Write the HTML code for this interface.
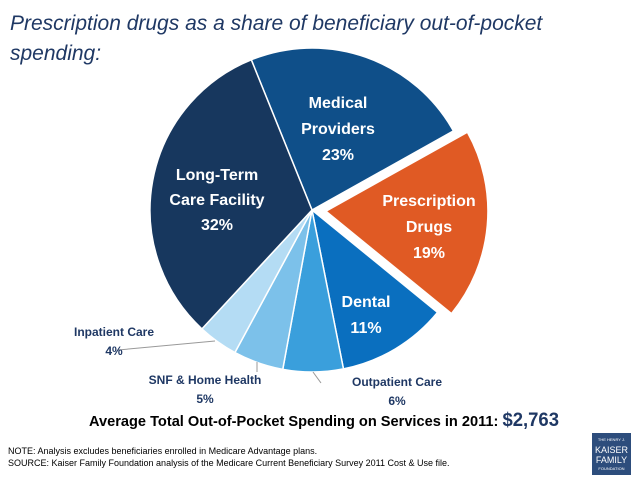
<!DOCTYPE html>
<html><head><meta charset="utf-8"><style>
body{margin:0;background:#fff;width:638px;height:479px;overflow:hidden;font-family:"Liberation Sans",sans-serif}
svg text{font-family:"Liberation Sans",sans-serif}
</style></head><body>
<svg width="638" height="479" id="c">
<text x="10" y="30" font-size="21" font-style="italic" fill="#1f3864">Prescription drugs as a share of beneficiary out-of-pocket</text>
<text x="10" y="60" font-size="21" font-style="italic" fill="#1f3864">spending:</text>
<g id="slices"></g>
<g id="labels" font-weight="bold" font-size="16" fill="#fff" text-anchor="middle">
<text x="338" y="108">Medical</text>
<text x="338" y="134">Providers</text>
<text x="338" y="160">23%</text>
<text x="217" y="180">Long-Term</text>
<text x="217" y="205">Care Facility</text>
<text x="217" y="230">32%</text>
<text x="429" y="206">Prescription</text>
<text x="429" y="232">Drugs</text>
<text x="429" y="258">19%</text>
<text x="366" y="307">Dental</text>
<text x="366" y="333">11%</text>
</g>
<g font-size="12" font-weight="bold" fill="#1f3864" text-anchor="middle">
<line x1="118" y1="350" x2="215" y2="341" stroke="#999"/>
<text x="114" y="336">Inpatient Care</text>
<text x="114" y="355">4%</text>
<line x1="257" y1="362" x2="257" y2="372" stroke="#999"/>
<text x="205" y="384">SNF &amp; Home Health</text>
<text x="205" y="403">5%</text>
<line x1="313" y1="372" x2="321" y2="383" stroke="#999"/>
<text x="397" y="386">Outpatient Care</text>
<text x="397" y="405">6%</text>
</g>
<text x="89" y="426" font-size="15" font-weight="bold" fill="#000" textLength="470" lengthAdjust="spacingAndGlyphs">Average Total Out-of-Pocket Spending on Services in 2011: <tspan font-size="19" fill="#1f3864">$2,763</tspan></text>
<text x="8" y="454" font-size="9" fill="#000">NOTE: Analysis excludes beneficiaries enrolled in Medicare Advantage plans.</text>
<text x="8" y="466" font-size="9" fill="#000">SOURCE: Kaiser Family Foundation analysis of the Medicare Current Beneficiary Survey 2011 Cost &amp; Use file.</text>
<g>
<rect x="592" y="433" width="39" height="42" fill="#2d4d7c"/>
<text x="611.5" y="441" font-size="4" fill="#fff" text-anchor="middle" font-family="Liberation Serif">THE HENRY J.</text>
<text x="611.5" y="453" font-size="9" fill="#fff" text-anchor="middle" font-family="Liberation Serif">KAISER</text>
<text x="611.5" y="463" font-size="9" fill="#fff" text-anchor="middle" font-family="Liberation Serif">FAMILY</text>
<text x="611.5" y="470" font-size="4" fill="#fff" text-anchor="middle" font-family="Liberation Serif">FOUNDATION</text>
</g>
</svg>
<script>
const categories=["Medical Providers","Prescription Drugs","Dental","Outpatient Care","SNF & Home Health","Inpatient Care","Long-Term Care Facility"];
const values=[23,19,11,6,5,4,32];
const colors=["#0f4f89","#e05a24","#0a6fbf","#3a9fdc","#7cc1ea","#b4dcf4","#17375e"];
const exploded=[0,1,0,0,0,0,0];
const cx=312,cy=210,r=162,start=-22;
const g=document.getElementById('slices');
const total=values.reduce((a,b)=>a+b,0);
let a=start;
function pt(ang,rad,ox,oy){const t=(ang-90)*Math.PI/180;return [ox+rad*Math.cos(t),oy+rad*Math.sin(t)];}
values.forEach((v,i)=>{
 const sw=v/total*360,a1=a,a2=a+sw,mid=(a1+a2)/2;
 let ox=cx,oy=cy;
 if(exploded[i]){const p=pt(mid,14,cx,cy);ox=p[0];oy=p[1];}
 const p1=pt(a1,r,ox,oy),p2=pt(a2,r,ox,oy);
 const path=document.createElementNS('http://www.w3.org/2000/svg','path');
 path.setAttribute('d',`M${ox},${oy}L${p1[0]},${p1[1]}A${r},${r} 0 ${sw>180?1:0} 1 ${p2[0]},${p2[1]}Z`);
 path.setAttribute('fill',colors[i]);
 path.setAttribute('stroke','#fff');
 path.setAttribute('stroke-width','1.5');
 
 
 g.appendChild(path);
 a=a2;
});
</script>
</body></html>
